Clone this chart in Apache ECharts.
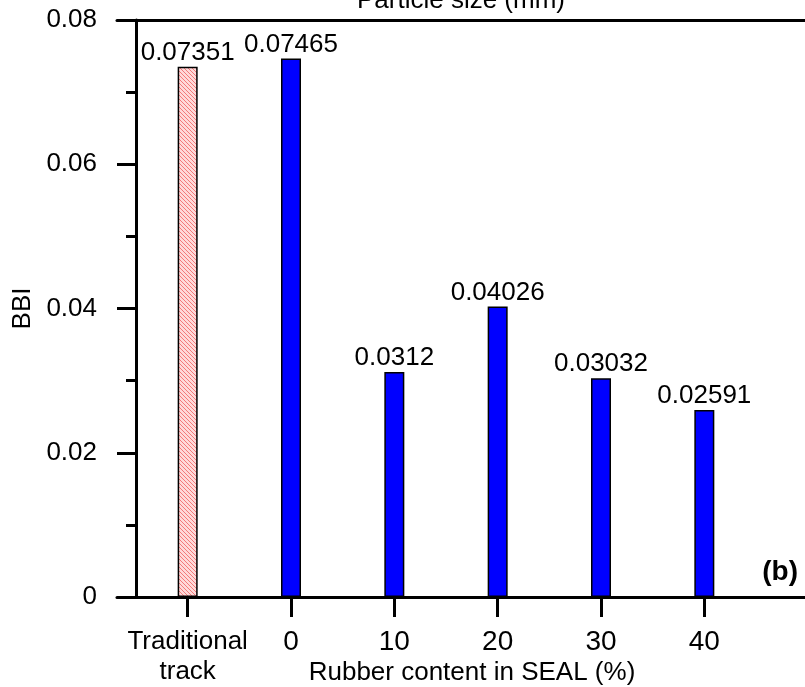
<!DOCTYPE html>
<html>
<head>
<meta charset="utf-8">
<script src="https://cdn.jsdelivr.net/npm/echarts@6/dist/echarts.min.js"></script>
<style>
  html, body { margin: 0; padding: 0; background: #fff; }
  #chart { width: 805px; height: 687px; }
</style>
</head>
<body>
<div id="chart"></div>
<script>
// Categories along the x axis
const categories = ['Traditional\ntrack', '0', '10', '20', '30', '40'];
// BBI values for each case
const bbiValues = [0.07351, 0.07465, 0.0312, 0.04026, 0.03032, 0.02591];
// Y axis tick values
const yTicks = [0, 0.02, 0.04, 0.06, 0.08];

const FONT = "'Liberation Sans', Arial, sans-serif";
const FS = 26;

// Pink diagonal hatch fill for the traditional track bar
function hatchCanvas() {
  const c = document.createElement('canvas');
  c.width = 4; c.height = 4;
  const g = c.getContext('2d');
  g.fillStyle = '#ffd9d9';
  g.fillRect(0, 0, 4, 4);
  g.strokeStyle = '#f27a7a';
  g.lineWidth = 1;
  g.beginPath();
  g.moveTo(0, 0); g.lineTo(4, 4);
  g.moveTo(-4, 0); g.lineTo(4, 8);
  g.moveTo(0, -4); g.lineTo(8, 4);
  g.stroke();
  return c;
}

const barData = bbiValues.map((v, i) => ({
  value: v,
  itemStyle: i === 0
    ? { color: { image: hatchCanvas(), repeat: 'repeat' }, borderColor: '#000', borderWidth: 1.5 }
    : { color: '#0000ff', borderColor: '#000', borderWidth: 1.5 }
}));

const chart = echarts.init(document.getElementById('chart'), null, { renderer: 'canvas' });

chart.setOption({
  animation: false,
  backgroundColor: '#fff',
  textStyle: { fontFamily: FONT },
  grid: [
    { left: 136, top: 20, width: 620, height: 577, outerBoundsMode: 'none', containLabel: false },
    { left: 117, top: 20, right: 0, height: 577, outerBoundsMode: 'none', containLabel: false }
  ],
  xAxis: [
    {
      type: 'category',
      gridIndex: 0,
      data: categories,
      boundaryGap: true,
      axisLine: { show: false },
      axisTick: { show: true, alignWithLabel: true, length: 20, lineStyle: { color: '#000', width: 3 } },
      axisLabel: {
        color: '#000', fontSize: FS, fontFamily: FONT, margin: 30, lineHeight: 30,
        interval: 0,
        // numeric rubber contents are set a little larger than the text label
        formatter: v => (v.indexOf('\n') >= 0 ? v : '{n|' + v + '}'),
        rich: { n: { fontSize: 28, fontFamily: FONT, color: '#000', lineHeight: 30 } }
      },
      splitLine: { show: false }
    },
    {
      type: 'value',
      gridIndex: 1,
      position: 'bottom',
      min: 0, max: 1,
      axisLine: { show: true, lineStyle: { color: '#000', width: 3 } },
      axisTick: { show: false },
      axisLabel: { show: false },
      splitLine: { show: false },
      name: 'Rubber content in SEAL (%)',
      nameLocation: 'middle',
      nameGap: 63,
      nameTextStyle: { color: '#000', fontSize: FS, fontFamily: FONT, padding: [0, 0, 0, 22] }
    },
    {
      type: 'value',
      gridIndex: 1,
      position: 'top',
      min: 0, max: 1,
      axisLine: { show: true, lineStyle: { color: '#000', width: 3 } },
      axisTick: { show: false },
      axisLabel: { show: false },
      splitLine: { show: false },
      name: 'Particle size (mm)',
      nameLocation: 'middle',
      nameGap: 6,
      nameTextStyle: { color: '#000', fontSize: FS, fontFamily: FONT }
    }
  ],
  yAxis: [
    {
      type: 'value',
      gridIndex: 0,
      min: yTicks[0],
      max: yTicks[yTicks.length - 1],
      interval: yTicks[1] - yTicks[0],
      axisLine: { show: true, lineStyle: { color: '#000', width: 3 } },
      axisTick: { show: true, length: 19, lineStyle: { color: '#000', width: 3 } },
      minorTick: { show: true, splitNumber: 2, length: 10, lineStyle: { color: '#000', width: 3 } },
      axisLabel: {
        color: '#000', fontSize: FS, fontFamily: FONT, margin: 39,
        formatter: v => (v === 0 ? '0' : v.toFixed(2))
      },
      splitLine: { show: false },
      name: 'BBI',
      nameLocation: 'middle',
      nameGap: 100,
      nameTextStyle: { color: '#000', fontSize: FS, fontFamily: FONT }
    },
    {
      type: 'value',
      gridIndex: 1,
      show: false
    }
  ],
  series: [
    {
      type: 'bar',
      xAxisIndex: 0,
      yAxisIndex: 0,
      data: barData,
      barWidth: 20,
      label: {
        show: true,
        position: 'top',
        distance: 1,
        color: '#000',
        fontSize: FS,
        fontFamily: FONT,
        formatter: p => String(p.value)
      }
    }
  ],
  graphic: [
    {
      type: 'text',
      right: 7,
      top: 558,
      style: { text: '(b)', fill: '#000', font: 'bold 28px ' + FONT }
    }
  ]
});
</script>
</body>
</html>
